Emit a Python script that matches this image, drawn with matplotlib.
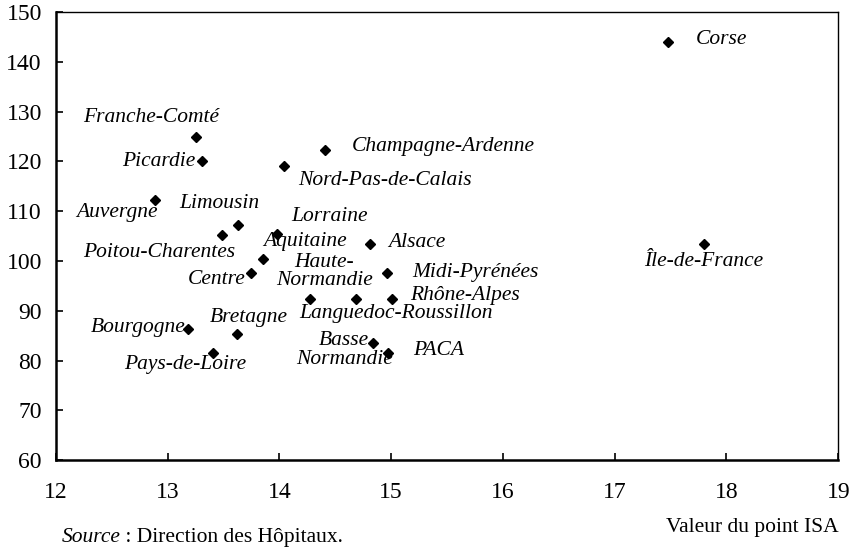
import matplotlib
matplotlib.use("Agg")
import matplotlib.pyplot as plt

# valeur du point ISA vs indice (regions)
regions = ["Corse", "Île-de-France", "Franche-Comté", "Picardie", "Nord-Pas-de-Calais",
           "Champagne-Ardenne", "Auvergne", "Limousin", "Poitou-Charentes", "Lorraine",
           "Aquitaine", "Centre", "Alsace", "Midi-Pyrénées", "Languedoc-Roussillon",
           "Haute-\nNormandie", "Rhône-Alpes", "Bourgogne", "Bretagne", "Pays-de-Loire",
           "Basse\nNormandie", "PACA"]
point_isa = [17.48, 17.8, 13.25, 13.31, 14.04, 14.41, 12.89, 13.63, 13.49, 13.98,
             13.85, 13.75, 14.81, 14.96, 14.27, 14.69, 15.01, 13.18, 13.62, 13.41,
             14.84, 14.97]
indice = [144, 103.4, 125, 120, 119, 122.3, 112.3, 107.2, 105.2, 105.4,
          100.4, 97.5, 103.4, 97.5, 92.3, 92.3, 92.3, 86.3, 85.3, 81.5,
          83.5, 81.5]
xticks = [12, 13, 14, 15, 16, 17, 18, 19]
yticks = [60, 70, 80, 90, 100, 110, 120, 130, 140, 150]

# label placement: offset in pixels from the point, horizontal alignment
offsets = {
    "Corse": (27, 2, "left"),
    "Île-de-France": (0, -17, "center"),
    "Franche-Comté": (-44, 19, "center"),
    "Picardie": (-43, 0, "center"),
    "Nord-Pas-de-Calais": (101, -14, "center"),
    "Champagne-Ardenne": (118, 3, "center"),
    "Auvergne": (-38, -13, "center"),
    "Limousin": (-19, 22, "center"),
    "Poitou-Charentes": (-63, -17, "center"),
    "Lorraine": (52, 18, "center"),
    "Aquitaine": (42, 17, "center"),
    "Centre": (-35, -6, "center"),
    "Alsace": (47, 2, "center"),
    "Midi-Pyrénées": (89, 1, "center"),
    "Languedoc-Roussillon": (86, -14, "center"),
    "Haute-\nNormandie": (-32, 28, "center"),
    "Rhône-Alpes": (73, 4, "center"),
    "Bourgogne": (-50, 2, "center"),
    "Bretagne": (12, 17, "center"),
    "Pays-de-Loire": (-28, -11, "center"),
    "Basse\nNormandie": (-29, -7, "center"),
    "PACA": (51, 3, "center"),
}

plt.rcParams['font.family'] = ['Liberation Serif', 'DejaVu Serif']

fig = plt.figure(figsize=(8.58, 5.51), dpi=100)
ax = fig.add_axes([0.065, 0.165, 0.912, 0.813])

ax.plot(point_isa, indice, linestyle="none", marker="D", markersize=5, color="black")

for name, x, y in zip(regions, point_isa, indice):
    dx, dy, ha = offsets[name]
    ax.annotate(name, (x, y), xytext=(dx, dy), textcoords="offset pixels",
                ha=ha, va="center", fontsize=15.5, style="italic",
                linespacing=0.95, multialignment="center")

ax.set_xlim(12, 19)
ax.set_ylim(60, 150)
ax.set_xticks(xticks)
ax.set_yticks(yticks)
ax.tick_params(axis="both", direction="in", length=5, width=1.2, labelsize=17)
ax.tick_params(axis="x", pad=16)
ax.tick_params(axis="y", pad=10)
for side in ["left", "bottom"]:
    ax.spines[side].set_linewidth(1.8)
for side in ["top", "right"]:
    ax.spines[side].set_linewidth(1.0)

fig.text(0.977, 0.042, "Valeur du point ISA", ha="right", va="center", fontsize=15.5)
fig.text(0.072, 0.025, "Source", style="italic", ha="left", va="center", fontsize=15.5)
fig.text(0.14, 0.025, " : Direction des Hôpitaux.", ha="left", va="center", fontsize=15.5)

fig.savefig("out.png", dpi=100)
